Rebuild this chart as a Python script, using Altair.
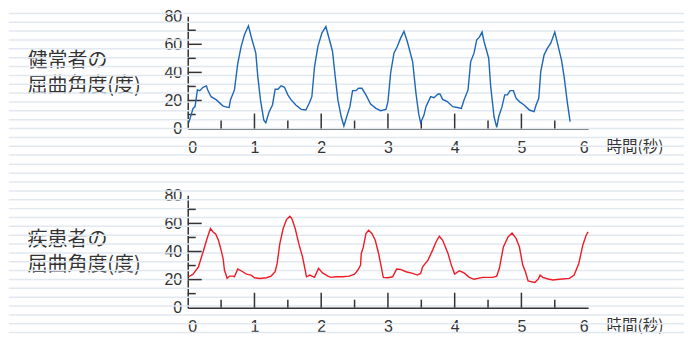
import altair as alt
import pandas as pd

# ---- data ----
healthy_t = [0.015,0.08,0.11,0.145,0.18,0.23,0.28,0.30,0.35,0.43,0.53,0.60,0.62,0.64,0.70,0.75,0.80,0.85,0.91,0.95,
             1.02,1.05,1.09,1.14,1.17,1.22,1.27,1.31,1.35,1.40,1.45,1.50,1.55,1.62,1.70,1.77,1.82,1.86,1.90,1.95,
             2.01,2.07,2.11,2.17,2.21,2.25,2.30,2.34,2.39,2.43,2.47,2.52,2.56,2.61,2.67,2.74,2.82,2.89,2.97,3.00,
             3.04,3.09,3.14,3.19,3.24,3.29,3.37,3.42,3.46,3.49,3.54,3.57,3.64,3.69,3.75,3.78,3.82,3.89,3.97,4.04,
             4.10,4.14,4.20,4.24,4.29,4.33,4.37,4.41,4.44,4.51,4.54,4.59,4.63,4.66,4.71,4.75,4.79,4.83,4.88,4.92,
             4.97,5.04,5.12,5.19,5.22,5.26,5.29,5.34,5.39,5.44,5.50,5.54,5.60,5.64,5.69,5.73]
healthy_v = [4.1,14.4,15.6,27.5,27,29.4,30.4,27.5,22.7,20.4,16,15.1,15,20.4,27.5,46.5,58.4,66.8,73.2,65.6,
             53.7,37,20.4,6,4.1,12,16.8,28,28,30.4,29.4,24,20.4,16.8,13.7,13.2,18,22.7,44,58.4,
             68,72.7,65.6,54.9,37,20.4,8.4,1.8,9.6,15.6,27,27,28.7,28.7,24,17.5,14.4,12.7,13.7,19.2,
             39.4,53.7,58.4,64.4,69.2,62,47.7,25.1,10.8,4.1,9.6,15.6,22.7,22,24.6,24.6,20.8,19.2,15.6,15,
             14.4,20.4,27.5,47.7,53.7,63.2,65.1,68.7,62,50.1,29.9,8.4,0.9,8.4,15.6,24,24,27,27,21.6,
             19.2,16.8,13.2,12,16.8,21.6,40.6,52.5,57.3,60.8,68.7,60.8,48.9,37,18,4.9]

patient_t = [0.015,0.08,0.16,0.23,0.29,0.34,0.38,0.42,0.46,0.50,0.53,0.55,0.59,0.63,0.68,0.70,0.75,0.80,0.88,0.95,
             1.00,1.08,1.18,1.25,1.31,1.34,1.38,1.43,1.48,1.53,1.56,1.61,1.67,1.72,1.75,1.78,1.83,1.90,1.96,2.02,
             2.10,2.15,2.22,2.32,2.42,2.50,2.55,2.59,2.60,2.63,2.67,2.71,2.76,2.81,2.86,2.90,2.93,3.00,3.07,3.13,
             3.19,3.27,3.37,3.44,3.49,3.52,3.60,3.67,3.72,3.77,3.82,3.90,3.95,4.00,4.07,4.14,4.22,4.29,4.42,4.57,
             4.63,4.67,4.73,4.80,4.86,4.92,4.97,5.02,5.06,5.10,5.20,5.25,5.28,5.32,5.40,5.47,5.57,5.72,5.79,5.86,
             5.92,5.97,6.00]
patient_v = [22,23.9,29.1,39.7,49.2,56.4,53.9,52.3,48,41,35,26.8,20.9,22.5,22.5,22,27.5,26.3,23.9,23.2,
             21.3,20.8,21.3,22.5,25.6,31.5,45.7,56.4,62.7,65.1,63.5,56.4,44.5,36.2,29.1,22,23.2,21.6,28,24.8,
             22.5,21.6,22,22,22.5,23.9,26.8,30.3,38.6,42.9,52.8,55.1,52.8,48,38.6,29.1,21.6,21.3,22,27.5,
             27.3,25.6,24.4,23.2,24.4,29.1,33.9,41,46.8,50.9,48,38.6,30.3,23.9,26.3,24.8,21.6,20.2,21.6,21.6,
             22.5,28,43.3,50.4,53.2,49.3,43.3,30.3,25.6,19,18,20.2,23.2,21.6,20.4,19.7,20.2,20.9,23.2,31.5,
             44.5,51.6,53.9]

x_labels = [0, 1, 2, 3, 4, 5, 6]
y_labels = [0, 20, 40, 60, 80]
x_major = [1, 2, 3, 4, 5]
x_minor = [0.5, 1.5, 2.5, 3.5, 4.5, 5.5]
y_major = [20, 40, 60]
y_minor = [10, 30, 50, 70]
title_top = ["健常者の", "屈曲角度(度)"]
title_bottom = ["疾患者の", "屈曲角度(度)"]
x_title = "時間(秒)"

# ---- layout (pixels) ----
W = 401
H = 112.5
PITCH = 8.87
FIRST = 4.3
TOP_PAGE = [16, 195]
BG_COLOR = "#e1e8f0"
AX = "#333333"


def panel(t, v, color, ytitle, top_page, ks):
    df = pd.DataFrame({"t": t, "v": v})
    xs = alt.Scale(domain=[0, 6], nice=False)
    ys = alt.Scale(domain=[0, 80], nice=False)
    y_axis = alt.Axis(
        values=y_labels, title=ytitle, titleX=-161, titleY=50,
        titleAlign="left", titleBaseline="alphabetic", titleAngle=0,
        titleFontSize=20, titleLineHeight=25, labelPadding=6, format="d",
        labelOverlap=False)
    x_axis = alt.Axis(
        values=x_labels, title=x_title, titleX=419, titleY=22.5,
        titleAlign="left", titleBaseline="alphabetic", titleAngle=0,
        titleFontSize=15.5, labelPadding=10.5, format="d", labelOverlap=False)

    # background ruled lines: pixel offsets converted to the panel's value units
    bg = pd.DataFrame({"v": [80 * (1 - (FIRST + PITCH * k - top_page) / H) for k in ks]})
    bg_layer = alt.Chart(bg).mark_rule(color=BG_COLOR, strokeWidth=1.5).encode(
        y=alt.Y("v:Q", scale=ys, axis=y_axis),
        x=alt.value(-179.25),
        x2=alt.value(W + 96),
    )

    line = alt.Chart(df).mark_line(color=color, strokeWidth=1.4).encode(
        x=alt.X("t:Q", scale=xs, axis=x_axis),
        y=alt.Y("v:Q", scale=ys, axis=y_axis),
    )

    ymaj = alt.Chart(pd.DataFrame({"v": y_major})).mark_rule(color=AX, strokeWidth=1.5).encode(
        y=alt.Y("v:Q", scale=ys, axis=y_axis), x=alt.value(0), x2=alt.value(14))
    ymin = alt.Chart(pd.DataFrame({"v": y_minor})).mark_rule(color=AX, strokeWidth=1.5).encode(
        y=alt.Y("v:Q", scale=ys, axis=y_axis), x=alt.value(0), x2=alt.value(8))
    xmaj = alt.Chart(pd.DataFrame({"t": x_major})).mark_rule(color=AX, strokeWidth=1.5).encode(
        x=alt.X("t:Q", scale=xs, axis=x_axis), y=alt.value(H), y2=alt.value(H - 15))
    xmin = alt.Chart(pd.DataFrame({"t": x_minor})).mark_rule(color=AX, strokeWidth=1.5).encode(
        x=alt.X("t:Q", scale=xs, axis=x_axis), y=alt.value(H), y2=alt.value(H - 8))

    return alt.layer(bg_layer, ymaj, ymin, xmaj, xmin, line).properties(width=W, height=H)


top = panel(healthy_t, healthy_v, "#1f66b8", title_top, TOP_PAGE[0], range(1, 18))
bottom = panel(patient_t, patient_v, "#ee1c25", title_bottom, TOP_PAGE[1], range(18, 38))

chart = alt.vconcat(top, bottom, spacing=PITCH - 1.5).properties(
    padding={"left": 0, "top": 0, "right": 0, "bottom": 0},
    background="white",
).configure_view(strokeWidth=0).configure_axis(
    grid=False, ticks=False, tickSize=0, domainColor=AX, domainWidth=1.5,
    labelFont="Liberation Sans", labelFontSize=16, labelColor=AX,
    titleFont="Noto Sans CJK JP", titleFontWeight="normal", titleColor=AX,
    labelOverlap=False, zindex=1,
)

chart.save("out.html", embed_options={"renderer": "svg", "actions": False})
